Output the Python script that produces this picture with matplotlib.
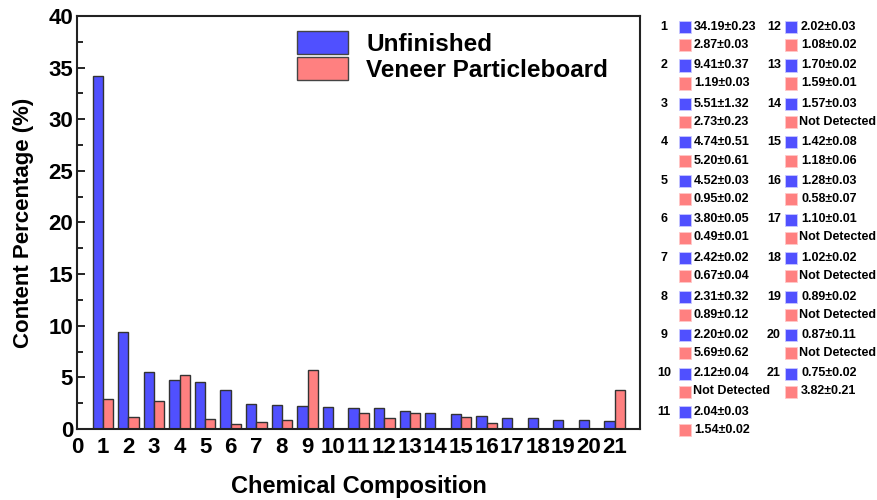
import matplotlib
matplotlib.use("Agg")
import matplotlib.pyplot as plt
import matplotlib.patches as mpatches
import numpy as np

plt.rcParams['font.family'] = ['Liberation Sans', 'DejaVu Sans']
plt.rcParams['font.weight'] = 'bold'

# compound number, mean content and standard deviation (None = not detected)
compounds = list(range(1, 22))
unfinished_mean = [34.19, 9.41, 5.51, 4.74, 4.52, 3.80, 2.42, 2.31, 2.20, 2.12, 2.04,
                   2.02, 1.70, 1.57, 1.42, 1.28, 1.10, 1.02, 0.89, 0.87, 0.75]
unfinished_sd = [0.23, 0.37, 1.32, 0.51, 0.03, 0.05, 0.02, 0.32, 0.02, 0.04, 0.03,
                 0.03, 0.02, 0.03, 0.08, 0.03, 0.01, 0.02, 0.02, 0.11, 0.02]
veneer_mean = [2.87, 1.19, 2.73, 5.20, 0.95, 0.49, 0.67, 0.89, 5.69, None, 1.54,
               1.08, 1.59, None, 1.18, 0.58, None, None, None, None, 3.82]
veneer_sd = [0.03, 0.03, 0.23, 0.61, 0.02, 0.01, 0.04, 0.12, 0.62, None, 0.02,
             0.02, 0.01, None, 0.06, 0.07, None, None, None, None, 0.21]

blue = '#5050FF'
pink = '#FF8080'

fig = plt.figure(figsize=(8.77, 5), dpi=100)
ax = fig.add_axes([0.088, 0.142, 0.642, 0.826])

x = np.array(compounds)
v_heights = [0 if v is None else v for v in veneer_mean]
w = 0.4
ax.bar(x - w / 2, unfinished_mean, width=w, color=blue, edgecolor='#333333', linewidth=1)
ax.bar(x + w / 2, v_heights, width=w, color=pink, edgecolor='#333333', linewidth=1)

ax.set_xlim(0, 22)
ax.set_ylim(0, 40)
ax.set_xticks(range(0, 22))
ax.set_xticklabels([str(i) for i in range(0, 22)])
ax.set_yticks(range(0, 41, 5))
ax.set_yticks(np.arange(2.5, 40, 5), minor=True)
ax.tick_params(axis='x', length=0, labelsize=16, pad=6)
ax.tick_params(axis='y', which='major', direction='in', length=6, width=1.2, labelsize=16, pad=3)
ax.tick_params(axis='y', which='minor', direction='in', length=4, width=1.2)
for s in ax.spines.values():
    s.set_linewidth(1.5)
    s.set_color('#222222')

ax.set_xlabel('Chemical Composition', fontsize=17, fontweight='bold', labelpad=12)
ax.set_ylabel('Content Percentage (%)', fontsize=16, fontweight='bold', labelpad=10)

handles = [mpatches.Patch(facecolor=blue, edgecolor='#444444', label='Unfinished'),
           mpatches.Patch(facecolor=pink, edgecolor='#444444', label='Veneer Particleboard')]
fig.legend(handles=handles, loc='upper left', bbox_to_anchor=(297 / 877, 1 - 31 / 500),
           frameon=False, handlelength=2.1, handleheight=1.1,
           labelspacing=0.05, handletextpad=0.75, borderpad=0, borderaxespad=0,
           prop={'weight': 'bold', 'size': 17.5})

# value table to the right of the plot
W, H = 877.0, 500.0
row_y0, row_step, pair_gap = 27, 38.5, 18
cols = [(664, 679, 694), (774, 785, 801)]
sq = 12
for i, n in enumerate(compounds):
    col = 0 if i < 11 else 1
    r = i if i < 11 else i - 11
    num_x, sq_x, txt_x = cols[col]
    y1 = row_y0 + r * row_step
    y2 = y1 + pair_gap
    fig.text(num_x / W, 1 - y1 / H, str(n), ha='center', va='center', fontsize=9, fontweight='bold')
    for yy, c in ((y1, blue), (y2, pink)):
        fig.add_artist(mpatches.Rectangle((sq_x / W, 1 - (yy + sq / 2) / H), sq / W, sq / H,
                                          facecolor=c, edgecolor='#c8c8ff' if c == blue else '#ffc8c8',
                                          linewidth=0.6, transform=fig.transFigure))
    fig.text(txt_x / W, 1 - y1 / H, f'{unfinished_mean[i]:.2f}±{unfinished_sd[i]:.2f}',
             ha='left', va='center', fontsize=9, fontweight='bold')
    if veneer_mean[i] is None:
        fig.text((sq_x + sq + 2) / W, 1 - y2 / H, 'Not Detected',
                 ha='left', va='center', fontsize=9, fontweight='bold')
    else:
        fig.text(txt_x / W, 1 - y2 / H, f'{veneer_mean[i]:.2f}±{veneer_sd[i]:.2f}',
                 ha='left', va='center', fontsize=9, fontweight='bold')

fig.savefig('out.png', dpi=100)
